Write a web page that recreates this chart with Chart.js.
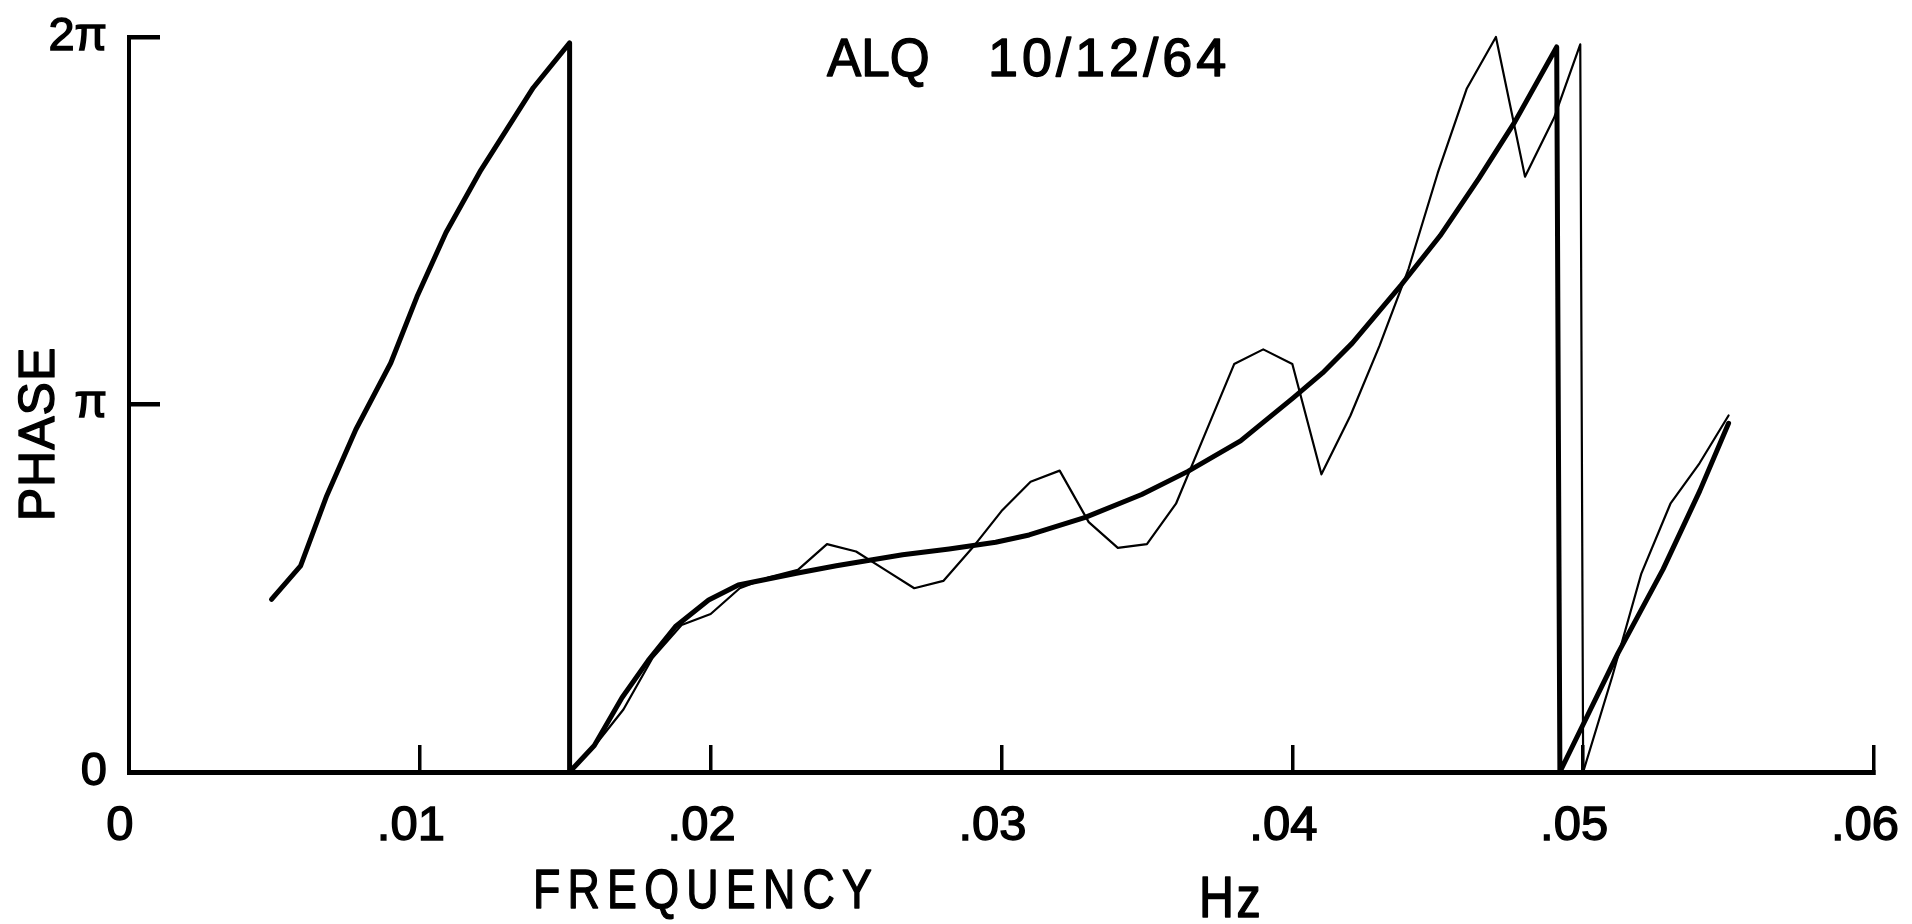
<!DOCTYPE html>
<html>
<head>
<meta charset="utf-8">
<script src="https://cdn.jsdelivr.net/npm/chart.js@4.4.1/dist/chart.umd.min.js"></script>
<style>
  html, body { margin: 0; padding: 0; background: #fff; }
  #wrap { width: 1912px; height: 924px; }
</style>
</head>
<body>
<div id="wrap"><canvas id="chart"></canvas></div>
<script>
// Smooth (thick) phase curve, frequency in Hz, phase in units of pi
const fitFreq = [0.0049, 0.0059, 0.0068, 0.0078, 0.0090, 0.0099, 0.0109, 0.0121, 0.0130, 0.0139, 0.01515, 0.01515,
                 0.0160, 0.01695, 0.01785, 0.01879, 0.01993, 0.02095, 0.02295, 0.02432, 0.02546, 0.0266, 0.0282, 0.0298,
                 0.03095, 0.03288, 0.03482, 0.03641, 0.03822, 0.04003, 0.04104, 0.04206, 0.04374, 0.04508, 0.04642,
                 0.04765, 0.04909, 0.0492, 0.05119, 0.05275, 0.05401, 0.0550];
const fitPhase = [0.47, 0.561, 0.752, 0.932, 1.113, 1.293, 1.468, 1.638, 1.75, 1.862, 1.984, 0,
                  0.072, 0.202, 0.303, 0.396, 0.468, 0.509, 0.541, 0.561, 0.576, 0.591, 0.607, 0.625,
                  0.645, 0.693, 0.755, 0.818, 0.901, 1.018, 1.086, 1.167, 1.325, 1.459, 1.616,
                  1.769, 1.973, 0, 0.322, 0.552, 0.765, 0.949];

// Measured (thin) phase, sampled every .001 Hz
const measFreq = [0.01515, 0.016, 0.017, 0.018, 0.019, 0.020, 0.021, 0.022, 0.023, 0.024, 0.025, 0.026, 0.027,
                  0.028, 0.029, 0.030, 0.031, 0.032, 0.033, 0.034, 0.035, 0.036, 0.037, 0.038, 0.039, 0.040,
                  0.041, 0.042, 0.043, 0.044, 0.045, 0.046, 0.047, 0.048, 0.049, 0.0499, 0.0500,
                  0.051, 0.052, 0.053, 0.054, 0.055];
const measPhase = [0, 0.07, 0.17, 0.31, 0.40, 0.43, 0.50, 0.53, 0.55, 0.62, 0.60, 0.55, 0.50,
                   0.52, 0.61, 0.71, 0.79, 0.82, 0.68, 0.61, 0.62, 0.73, 0.92, 1.11, 1.15, 1.11,
                   0.81, 0.97, 1.16, 1.37, 1.63, 1.86, 2.0, 1.62, 1.78, 1.98, 0,
                   0.26, 0.54, 0.73, 0.84, 0.97];

const freqTicks = [0, 0.01, 0.02, 0.03, 0.04, 0.05, 0.06];
const freqTickLabels = ['0', '.01', '.02', '.03', '.04', '.05', '.06'];
const phaseTicks = [0, 1, 2];
const phaseTickLabels = ['0', 'π', '2π'];

const plain = "'Liberation Sans', 'DejaVu Sans', sans-serif";

function points(xs, ys) {
    return xs.map((x, i) => ({ x: x, y: ys[i] }));
}

// lettered text: filled plus a thin outline, to get the pen weight of the sheet
function letter(ctx, text, x, y, sx) {
    ctx.save();
    ctx.translate(x, y);
    ctx.scale(sx, 1);
    ctx.fillText(text, 0, 0);
    ctx.strokeText(text, 0, 0);
    ctx.restore();
}

// titles and axis names lettered on the sheet
const lettering = {
    id: 'lettering',
    afterDraw(chart) {
        const ctx = chart.ctx;
        ctx.save();
        ctx.fillStyle = '#000';
        ctx.strokeStyle = '#000';
        ctx.lineWidth = 1.4;
        ctx.lineJoin = 'round';
        ctx.textBaseline = 'alphabetic';
        ctx.textAlign = 'left';

        ctx.font = '54px ' + plain;
        ctx.letterSpacing = '0px';
        letter(ctx, 'ALQ', 827, 76, 0.95);
        ctx.letterSpacing = '4px';
        letter(ctx, '10/12/64', 988, 76, 1);

        ctx.font = '56px ' + plain;
        ctx.letterSpacing = '9px';
        letter(ctx, 'FREQUENCY', 533, 908, 0.8);
        ctx.font = '57px ' + plain;
        ctx.letterSpacing = '3px';
        letter(ctx, 'Hz', 1199, 917, 0.85);

        ctx.translate(54, 434);
        ctx.rotate(-Math.PI / 2);
        ctx.textAlign = 'center';
        ctx.font = '50px ' + plain;
        ctx.letterSpacing = '1px';
        letter(ctx, 'PHASE', 0, 0, 1);
        ctx.restore();
    }
};

new Chart(document.getElementById('chart'), {
    type: 'line',
    data: {
        datasets: [
            {
                label: 'fit',
                data: points(fitFreq, fitPhase),
                borderColor: '#000',
                borderWidth: 5,
                borderCapStyle: 'round',
                borderJoinStyle: 'round',
                pointRadius: 0,
                tension: 0,
                clip: false
            },
            {
                label: 'measured',
                data: points(measFreq, measPhase),
                borderColor: '#000',
                borderWidth: 2.2,
                borderCapStyle: 'round',
                borderJoinStyle: 'round',
                pointRadius: 0,
                tension: 0,
                clip: false
            }
        ]
    },
    options: {
        responsive: true,
        maintainAspectRatio: false,
        animation: false,
        layout: { padding: { left: 0, right: 38, top: 37, bottom: 0 } },
        plugins: {
            legend: { display: false },
            tooltip: { enabled: false }
        },
        scales: {
            x: {
                type: 'linear',
                min: 0,
                max: 0.06,
                afterBuildTicks: scale => { scale.ticks = freqTicks.map(v => ({ value: v })); },
                afterFit: scale => {
                    scale.height = 152;
                    scale.paddingLeft = 0;
                    scale.paddingRight = 0;
                },
                border: { display: true, color: '#000', width: 5 },
                grid: { drawOnChartArea: false, drawTicks: true, tickLength: -27, color: '#000', lineWidth: 3.5 },
                ticks: {
                    callback: (v, i) => freqTickLabels[i],
                    autoSkip: false,
                    maxRotation: 0,
                    padding: 52,
                    labelOffset: -9,
                    color: '#000',
                    textStrokeColor: '#000',
                    textStrokeWidth: 1.4,
                    font: { family: plain, size: 49 }
                }
            },
            y: {
                type: 'linear',
                min: 0,
                max: 2,
                afterBuildTicks: scale => { scale.ticks = phaseTicks.map(v => ({ value: v })); },
                afterFit: scale => {
                    scale.width = 129;
                    scale.paddingTop = 0;
                    scale.paddingBottom = 0;
                },
                border: { display: true, color: '#000', width: 4 },
                grid: { drawOnChartArea: false, drawTicks: true, tickLength: -31, color: '#000', lineWidth: 4.5 },
                ticks: {
                    callback: (v, i) => phaseTickLabels[i],
                    padding: 53,
                    color: '#000',
                    textStrokeColor: '#000',
                    textStrokeWidth: 1.4,
                    font: { family: plain, size: 47 }
                }
            }
        }
    },
    plugins: [lettering]
});
</script>
</body>
</html>
